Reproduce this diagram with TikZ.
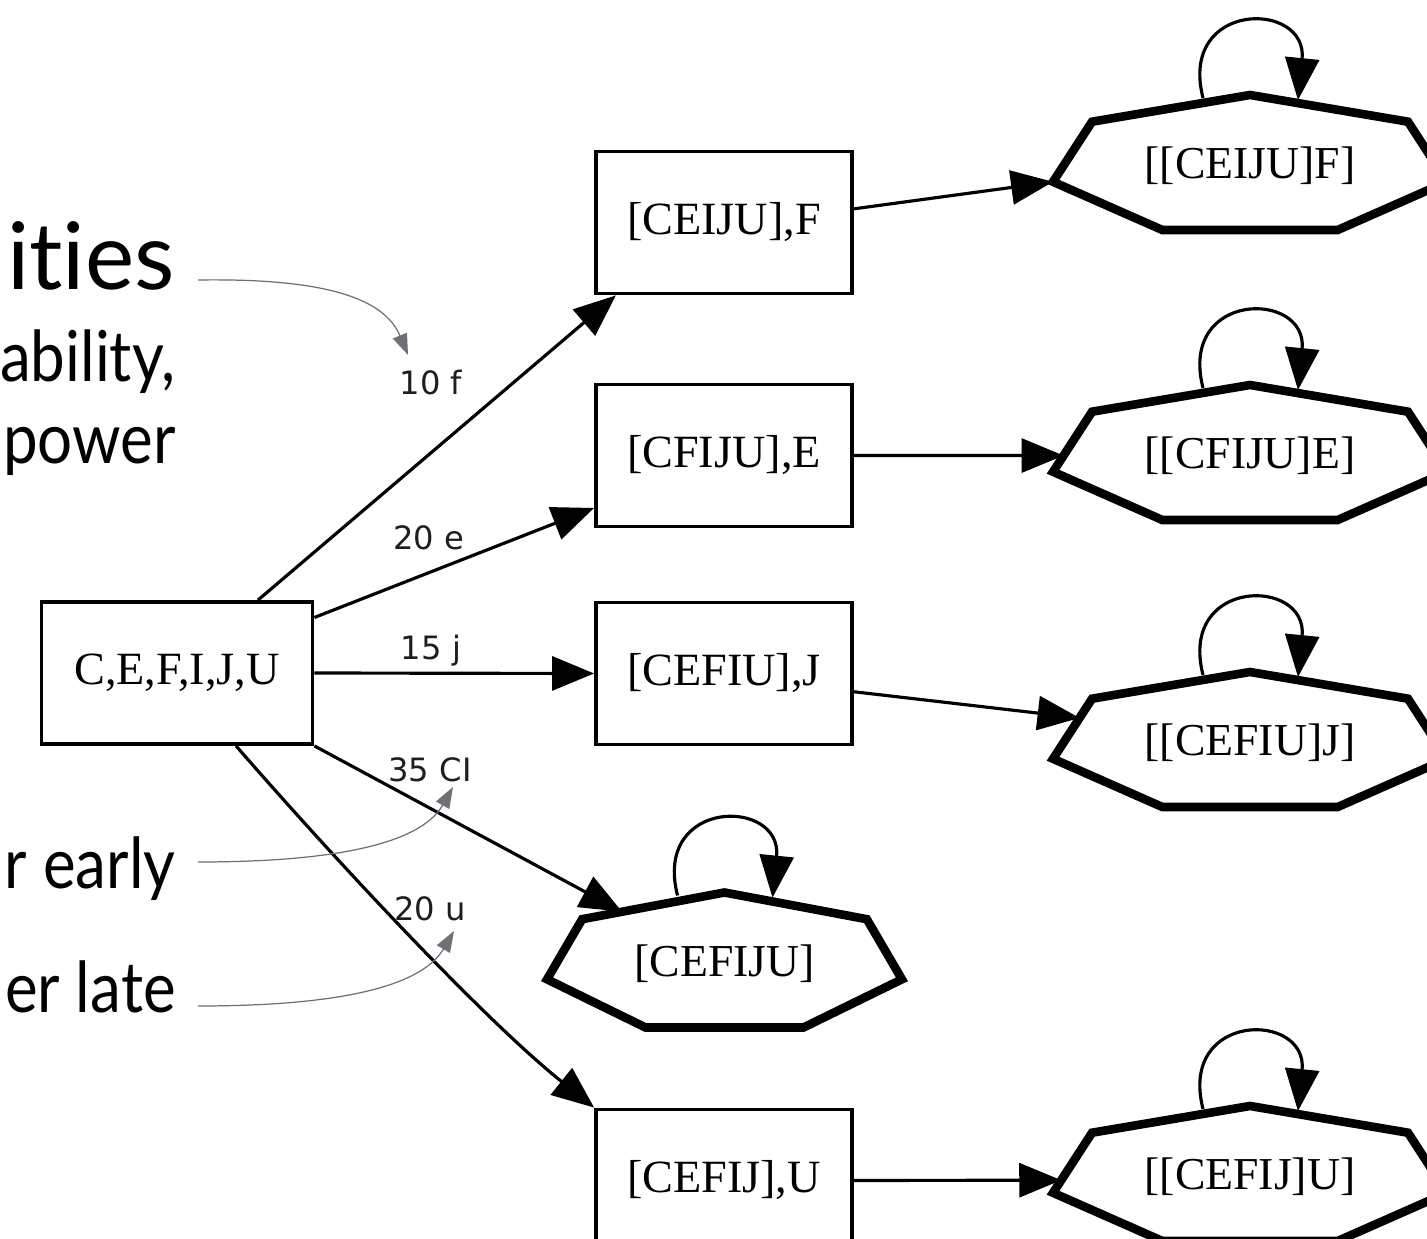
\documentclass[tikz,border=0pt]{standalone}
\usepackage{fontspec}
\setmainfont{Liberation Serif}
\newfontfamily\lblfont{DejaVu Sans}
\newfontfamily\slidefont[Ligatures=NoCommon]{Lato}
\newfontfamily\slidesubfont[Ligatures=NoCommon,FakeStretch=0.88]{Lato}
\usetikzlibrary{arrows.meta,calc}
\definecolor{callgray}{HTML}{6D7076}
\definecolor{lblcol}{HTML}{1E1E1E}
\tikzset{
  box/.style={draw, line width=2.2pt, inner sep=0pt, font=\fontsize{26.3}{30}\selectfont},
  bbox/.style={box, minimum width=5.12cm, minimum height=2.84cm},
  abox/.style={box, minimum width=5.42cm, minimum height=2.84cm},
  hlabel/.style={inner sep=0pt, font=\fontsize{26}{30}\selectfont},
  hept/.style={line width=4.9pt, line join=miter},
  edge/.style={line width=1.8pt, -{Triangle[length=0.84cm,width=0.68cm]}},
  lbl/.style={font=\lblfont\fontsize{18.3}{21}\selectfont, text=lblcol, inner sep=0pt, anchor=base},
  big/.style={font=\slidefont\fontsize{53}{60}\selectfont, inner sep=0pt, anchor=base east},
  sub/.style={font=\slidesubfont\fontsize{40}{48}\selectfont, inner sep=0pt, anchor=base east},
  callout/.style={color=callgray, line width=0.7pt, -{Triangle[length=0.42cm,width=0.3cm]}}
}
\newcommand\myhept[5]{%
  \node[hlabel] (#1) at (#2,#3) {#5};
  \coordinate (#1-t)  at (#2,{#3-71});
  \coordinate (#1-ul) at ({#2-0.782*#4},{#3-44.3});
  \coordinate (#1-l)  at ({#2-0.975*#4},{#3+15.8});
  \coordinate (#1-bl) at ({#2-0.434*#4},{#3+64});
  \coordinate (#1-br) at ({#2+0.434*#4},{#3+64});
  \coordinate (#1-r)  at ({#2+0.975*#4},{#3+15.8});
  \coordinate (#1-ur) at ({#2+0.782*#4},{#3-44.3});
  \draw[hept] (#1-t) -- (#1-ul) -- (#1-l) -- (#1-bl) -- (#1-br) -- (#1-r) -- (#1-ur) -- cycle;
  \draw[edge] ($(#1)+(-47,-68)$) .. controls ($(#1)+(-72,-166)$) and ($(#1)+(58,-166)$) .. ($(#1)+(48,-66)$);
}
\begin{document}
\begin{tikzpicture}[x=0.02cm, y=-0.02cm]
\useasboundingbox[fill=white] (0,0) rectangle (1427,1239);

% slide text (cut off at left)
\node[big] (s1) at (175,290) {ities};
\node[sub] (s2) at (176,382) {ability,};
\node[sub] (s3) at (176,464) {power};
\node[sub] (s4) at (176,888) {r early};
\node[sub] (s5) at (176,1012) {er late};

% boxes
\node[abox] (A)  at (177,673)    {C,E,F,I,J,U};
\node[bbox] (B1) at (724,222.5)  {[CEIJU],F};
\node[bbox] (B2) at (724,455.5)  {[CFIJU],E};
\node[bbox] (B3) at (724,673.5)  {[CEFIU],J};
\node[bbox] (B4) at (724,1180.5) {[CEFIJ],U};

% heptagons
\myhept{H0}{724.5}{963.5}{182}{[CEFIJU]}
\myhept{H1}{1250}{166}{202}{[[CEIJU]F]}
\myhept{H2}{1250}{456}{202}{[[CFIJU]E]}
\myhept{H3}{1250}{743}{202}{[[CEFIU]J]}
\myhept{H4}{1250}{1177}{202}{[[CEFIJ]U]}

% edge labels
\node[lbl] (l1) at (431,395) {10 f};
\node[lbl] (l2) at (429,550) {20 e};
\node[lbl] (l3) at (431,660) {15 j};
\node[lbl] (l4) at (430,782) {35 CI};
\node[lbl] (l5) at (430,920) {20 u};

% edges
\draw[edge] (A.42) -- (B1.214);
\draw[edge] (A.22) -- (B2.202);
\draw[edge] (A.east) -- (B3.west);
\draw[edge] (A.south east) -- ($(H0-ul)!0.28!(H0-t)$);
\draw[edge] (A.-51) .. controls ($(A.-51)+(100,115)$) and ($(B4.north west)+(-110,-88)$) .. (B4.north west);
\draw[edge] (B1.6) -- (H1-l);
\draw[edge] (B2.east) -- ($(H2-ul)!0.73!(H2-l)$);
\draw[edge] (B3.-8) -- ($(H3-ul)!0.32!(H3-l)$);
\draw[edge] (B4.east) -- ($(H4-ul)!0.79!(H4-l)$);

% callouts
\draw[callout] ($(s1.base east)+(23,-10)$) .. controls ($(s1.base east)+(155,-12)$) and ($(s1.base east)+(210,10)$) .. ($(l1.base)+(-23,-40)$);
\draw[callout] ($(s4.base east)+(22,-26)$) .. controls ($(s4.base east)+(154,-26)$) and ($(l4.base)+(-10,63)$) .. ($(l4.base)+(23,5)$);
\draw[callout] ($(s5.base east)+(22,-6)$) .. controls ($(s5.base east)+(154,-6)$) and ($(l5.base)+(-10,69)$) .. ($(l5.base)+(24,11)$);
\end{tikzpicture}
\end{document}
